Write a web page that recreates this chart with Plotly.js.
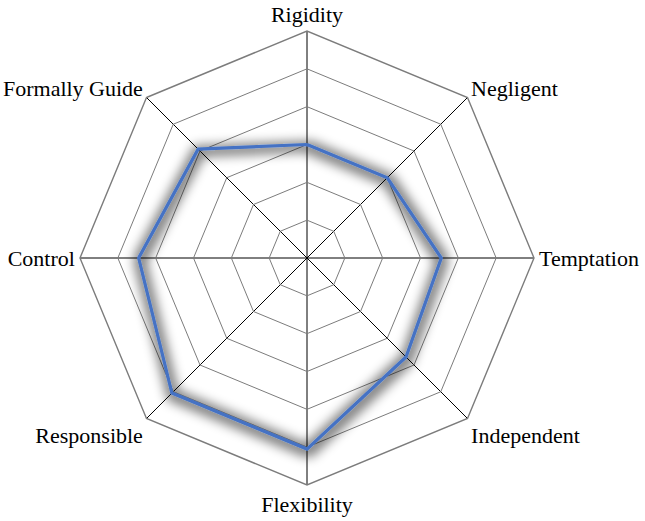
<!DOCTYPE html>
<html>
<head>
<meta charset="utf-8">
<script src="https://cdn.plot.ly/plotly-3.0.1.min.js"></script>
<style>
  html, body { margin: 0; padding: 0; background: #fff; }
  #plot { width: 645px; height: 521px; }
</style>
</head>
<body>
<div id="plot"></div>
<script>
// axes, clockwise from the top
const categories = ["Rigidity", "Negligent", "Temptation", "Independent",
                    "Flexibility", "Responsible", "Control", "Formally Guide"];
const scores = [3, 3, 3.55, 3.7, 5.05, 5.05, 4.45, 4.07];

// close the outline
const theta = categories.concat([categories[0]]);
const r = scores.concat([scores[0]]);

let mainTrace = {
  type: "scatterpolar",
  r: r,
  theta: theta,
  mode: "lines",
  line: { color: "#4472C4", width: 3.2 },
  showlegend: false
};

const serif = "Liberation Serif, Times New Roman, serif";

let layout = {
  width: 645,
  height: 521,
  margin: { l: 80, r: 111, t: 31, b: 36 },
  paper_bgcolor: "#fff",
  showlegend: false,
  font: { family: serif, size: 22, color: "#000" },
  polar: {
    gridshape: "linear",
    bgcolor: "#fff",
    angularaxis: {
      type: "category",
      categoryarray: categories,
      direction: "clockwise",
      rotation: 90,
      showline: true,
      linecolor: "#7c7c7c",
      linewidth: 1.4,
      gridcolor: "#000",
      gridwidth: 1,
      ticks: "",
      tickfont: { family: serif, size: 22, color: "#000" }
    },
    radialaxis: {
      range: [0, 6],
      dtick: 1,
      showticklabels: false,
      showline: false,
      ticks: "",
      gridcolor: "#7c7c7c",
      gridwidth: 1.4
    }
  }
};

Plotly.newPlot("plot", [mainTrace], layout, { displayModeBar: false }).then(function (gd) {
  // soft blurred shadow round the outline, like the original
  const svg = gd.querySelector("svg.main-svg");
  const ns = "http://www.w3.org/2000/svg";
  let defs = svg.querySelector("defs");
  if (!defs) { defs = document.createElementNS(ns, "defs"); svg.prepend(defs); }
  const filter = document.createElementNS(ns, "filter");
  filter.setAttribute("id", "lineShadow");
  filter.setAttribute("filterUnits", "userSpaceOnUse");
  filter.setAttribute("x", "0"); filter.setAttribute("y", "0");
  filter.setAttribute("width", "645"); filter.setAttribute("height", "521");
  filter.innerHTML =
    '<feMorphology in="SourceAlpha" operator="dilate" radius="4" result="fat"/>' +
    '<feGaussianBlur in="fat" stdDeviation="5.5" result="blur"/>' +
    '<feOffset in="blur" dx="1" dy="2" result="off"/>' +
    '<feComponentTransfer in="off" result="soft"><feFuncA type="linear" slope="0.5"/></feComponentTransfer>' +
    '<feMerge><feMergeNode in="soft"/><feMergeNode in="SourceGraphic"/></feMerge>';
  defs.appendChild(filter);
  gd.querySelectorAll(".scatterlayer .trace path.js-line").forEach(function (p) {
    p.setAttribute("filter", "url(#lineShadow)");
  });
});
</script>
</body>
</html>
